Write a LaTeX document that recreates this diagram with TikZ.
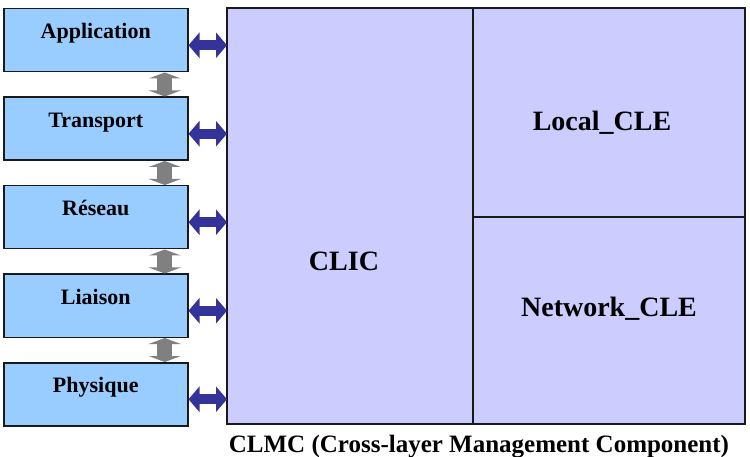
\documentclass[tikz,border=0pt]{standalone}
\usepackage{fontspec}
\setmainfont{Liberation Serif}[BoldFont={Liberation Serif Bold}]
\usetikzlibrary{arrows.meta, positioning}
\definecolor{layerblue}{RGB}{153, 204, 255}
\definecolor{clmcviolet}{RGB}{204, 204, 255}
\definecolor{linkblue}{RGB}{51, 51, 153}
\definecolor{stackgray}{RGB}{128, 128, 128}

\begin{document}
\begin{tikzpicture}[x=1pt, y=1pt,
            % Set global font for consistency
            font=\rmfamily\bfseries,
            % Define reusable styles for the layers and the CLMC parts
            layer/.style={draw=black!90, fill=layerblue, line width=1.5pt, minimum width=184pt, minimum height=63pt, inner sep=0pt, anchor=north west, font=\rmfamily\bfseries\fontsize{22}{24}\selectfont, text height=15pt, text depth=18pt},
            part/.style={draw=black!90, fill=clmcviolet, line width=1.5pt, inner sep=0pt, outer sep=0pt, anchor=north west},
            title/.style={font=\rmfamily\bfseries\fontsize{28}{30}\selectfont},
            link/.style={line width=10pt, linkblue, {Triangle[length=11pt, width=25pt]}-{Triangle[length=11pt, width=25pt]}},
            stack/.style={line width=15pt, stackgray, {Triangle[length=6pt, width=32pt]}-{Triangle[length=6pt, width=32pt]}}
        ]

        \useasboundingbox (0, 0) rectangle (750, -457);

        % The protocol stack
        \foreach \name/\txt [count=\i from 0] in {app/Application, tra/Transport, res/Réseau, lia/Liaison, phy/Physique} {
            \node[layer] (\name) at (3, {-8-88.5*\i}) {\txt};
        }

        % The cross-layer management component
        \node[part, minimum width=246pt, minimum height=416pt] (clic) at (227, -8) {};
        \node[part, minimum width=272pt, minimum height=209pt] (local) at (clic.north east) {};
        \node[part, minimum width=272pt, minimum height=207pt] (network) at (local.south west) {};

        \node[title] (cliclabel) at ([xshift=-6pt, yshift=-45pt]clic.center) {CLIC};
        \node[title] (locallabel) at ([xshift=-7pt, yshift=-10pt]local.center) {Local\_CLE};
        \node[title] (networklabel) at ([yshift=12pt]network.center) {Network\_CLE};

        \foreach \name in {app, tra, res, lia, phy} {
            \draw[link] ([yshift=-5pt]\name.east) -- ([yshift=-5pt]\name.east -| clic.west);
        }
        \foreach \up/\down in {app/tra, tra/res, res/lia, lia/phy} {
            \draw[stack] ([xshift=69pt]\up.south) -- ([xshift=69pt]\down.north);
        }

        \node[font=\rmfamily\bfseries\fontsize{25}{28}\selectfont, anchor=base] (clmc) at (479, -452) {CLMC (Cross-layer Management Component)};

\end{tikzpicture}
\end{document}
